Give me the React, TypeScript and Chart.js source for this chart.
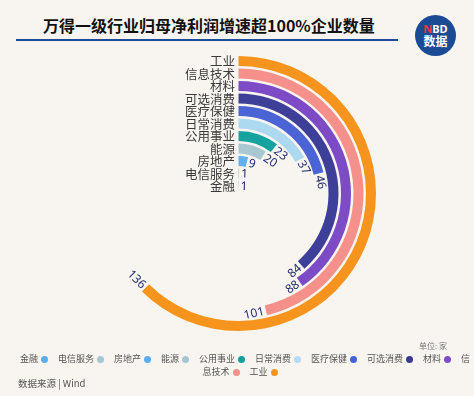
import React, { useEffect, useRef } from "react";
import { Chart, registerables } from "chart.js";

Chart.register(...registerables);

const categories = ["工业", "信息技术", "材料", "可选消费", "医疗保健", "日常消费", "公用事业", "能源", "房地产", "电信服务", "金融"];
const values = [136, 101, 88, 84, 46, 37, 23, 20, 9, 1, 1];
const colors = ["#f7941d", "#f5918a", "#7e4bc6", "#3e3f98", "#4b64d5", "#acd8f0", "#16a3a0", "#a9c8d2", "#60aff0", "#a6c6d4", "#5aaef0"];
const legendLabels = ["金融", "电信服务", "房地产", "能源", "公用事业", "日常消费", "医疗保健", "可选消费", "材料", "信息技术", "工业"];
const legendColors = ["#5aaef0", "#a6c6d4", "#5aaef0", "#a6c6d4", "#129f9c", "#b4dcf5", "#4661dd", "#3b3a93", "#7f4dc9", "#f4908a", "#f7941d"];
const SCALE_MAX = 218;

const BG = "#f8f5f0";
const CJK = '"Noto Sans CJK SC", "Noto Sans", sans-serif';

const labelPlugin = {
  id: "ringLabels",
  afterDatasetsDraw(chart: any) {
    const ctx = chart.ctx as CanvasRenderingContext2D;
    ctx.save();
    categories.forEach((cat, i) => {
      const meta = chart.getDatasetMeta(i * 2);
      const arc = meta.data[0];
      const p = arc.getProps(["x", "y", "startAngle", "endAngle", "innerRadius", "outerRadius"], true);
      const midR = (p.innerRadius + p.outerRadius) / 2;
      // category label
      ctx.font = `12.5px ${CJK}`;
      ctx.fillStyle = "#3a3a3a";
      ctx.textAlign = "right";
      ctx.textBaseline = "middle";
      ctx.fillText(cat, p.x - 3.5, p.y - midR + 0.5);
      // value label
      const a = p.endAngle;
      const px = p.x + midR * Math.cos(a);
      const py = p.y + midR * Math.sin(a);
      const theta = a + Math.PI / 2; // from top, clockwise
      ctx.save();
      ctx.translate(px, py);
      ctx.font = `12px "Noto Sans", sans-serif`;
      ctx.fillStyle = "#1f2d6b";
      ctx.textBaseline = "middle";
      if (theta <= Math.PI / 2 + 0.01) {
        ctx.rotate(a + Math.PI / 2);
        ctx.textAlign = "left";
        ctx.fillText(String(values[i]), 2, 0.5);
      } else {
        ctx.rotate(a - Math.PI / 2);
        ctx.textAlign = "right";
        ctx.fillText(String(values[i]), -2, 0.5);
      }
      ctx.restore();
    });
    ctx.restore();
  },
};

export default function App() {
  const ref = useRef<HTMLCanvasElement>(null);
  useEffect(() => {
    const datasets: any[] = [];
    values.forEach((v, i) => {
      datasets.push({
        data: [v, SCALE_MAX - v],
        backgroundColor: [colors[i], "rgba(0,0,0,0)"],
        borderWidth: 0,
        weight: 10,
      });
      datasets.push({
        data: [1],
        backgroundColor: ["rgba(0,0,0,0)"],
        borderWidth: 0,
        weight: 2.5,
      });
    });
    const chart = new Chart(ref.current!, {
      type: "doughnut",
      data: { labels: ["v", "rest"], datasets },
      options: {
        responsive: false,
        animation: false,
        devicePixelRatio: 1,
        cutout: 0,
        events: [],
        layout: { padding: { left: 101, top: 56, right: 98, bottom: 65 } },
        plugins: { legend: { display: false }, tooltip: { enabled: false } },
      },
      plugins: [labelPlugin],
    } as any);
    return () => chart.destroy();
  }, []);

  return (
    <div style={{ position: "absolute", left: 0, top: 0, width: 474, height: 396, background: BG, overflow: "hidden", fontFamily: CJK }}>
      <div style={{ position: "absolute", left: 43, top: 14, height: 22, lineHeight: "22px", fontSize: 16, fontWeight: 700, color: "#111", whiteSpace: "nowrap" }}>
        万得一级行业归母净利润增速超100%企业数量
      </div>
      <div style={{ position: "absolute", left: 16, top: 39, width: 382, height: 2, background: "#1d4d9a" }} />
      <div style={{ position: "absolute", left: 415, top: 15, width: 41, height: 41, borderRadius: "50%", background: "#1a4b94", color: "#fff", textAlign: "center", fontWeight: 700 }}>
        <div style={{ fontSize: 11, lineHeight: "11px", marginTop: 8, fontFamily: '"Noto Sans", sans-serif' }}>
          <span style={{ color: "#e8383d" }}>N</span>BD
        </div>
        <div style={{ fontSize: 12, lineHeight: "14px" }}>数据</div>
      </div>
      <canvas ref={ref} width={474} height={396} style={{ position: "absolute", left: 0, top: 0 }} />
      <div style={{ position: "absolute", left: 419, top: 341, fontSize: 8, lineHeight: "10px", color: "#777" }}>单位: 家</div>
      <div style={{ position: "absolute", left: 16, top: 352, width: 458, textAlign: "center", fontSize: 9, lineHeight: "13px", color: "#555", wordBreak: "break-all" }}>
        {legendLabels.map((l, i) => (
          <span key={l} style={{ marginRight: 10 }}>
            {l}
            <span style={{ display: "inline-block", width: 7, height: 7, borderRadius: "50%", background: legendColors[i], marginLeft: 3, verticalAlign: "-0.5px" }} />
          </span>
        ))}
      </div>
      <div style={{ position: "absolute", left: 18, top: 377, fontSize: 9.5, lineHeight: "12px", color: "#555" }}>数据来源 | Wind</div>
    </div>
  );
}
